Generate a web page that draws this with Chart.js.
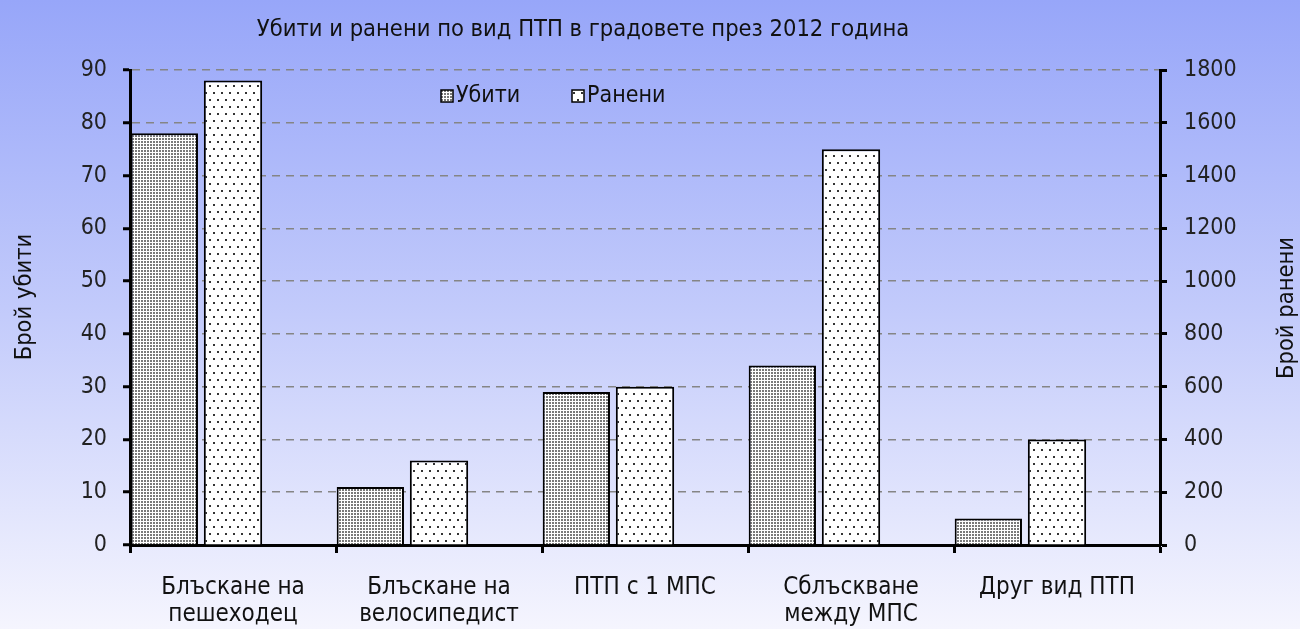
<!DOCTYPE html>
<html>
<head>
<meta charset="utf-8">
<script src="https://cdn.jsdelivr.net/npm/chart.js@4"></script>
<style>
  body { margin: 0; background: #fff; }
  #wrap { width: 1300px; height: 629px; }
</style>
</head>
<body>
<div id="wrap"><canvas id="chart" width="1300" height="629"></canvas></div>
<script>
const FONT = "'Liberation Sans Narrow', 'DejaVu Sans Condensed', 'Arial Narrow', sans-serif";

const categories = [
  ["Блъскане на", "пешеходец"],
  ["Блъскане на", "велосипедист"],
  ["ПТП с 1 МПС"],
  ["Сблъскване", "между МПС"],
  ["Друг вид ПТП"],
];
const killed = [78, 11, 29, 34, 5];
const injured = [1760, 320, 600, 1500, 400];
const leftTicks = { min: 0, max: 90, step: 10 };
const rightTicks = { min: 0, max: 1800, step: 200 };

// fill patterns like the old Excel hatches
function makePattern(w, h, dots, dotSize, color) {
  const c = document.createElement("canvas");
  c.width = w;
  c.height = h;
  const g = c.getContext("2d");
  g.fillStyle = "#fff";
  g.fillRect(0, 0, w, h);
  g.fillStyle = color;
  dots.forEach(([x, y]) => g.fillRect(x, y, dotSize, dotSize));
  return g.createPattern(c, "repeat");
}
const ctx = document.getElementById("chart").getContext("2d");
const densePattern = makePattern(3, 3, [[0, 0]], 2, "#7a7a7a");
const sparsePattern = makePattern(8, 14, [[1, 1], [5, 8]], 2, "#333");

const chartDecor = {
  id: "chartDecor",
  beforeDraw(chart) {
    const c = chart.ctx;
    const grad = c.createLinearGradient(0, 0, 0, chart.height);
    grad.addColorStop(0, "#97a6f9");
    grad.addColorStop(0.5, "#c3cbfb");
    grad.addColorStop(1, "#f5f5fe");
    c.save();
    c.fillStyle = grad;
    c.fillRect(0, 0, chart.width, chart.height);
    c.restore();
  },
  afterDraw(chart) {
    const c = chart.ctx;
    c.save();
    c.fillStyle = "#111";
    c.textAlign = "center";
    c.textBaseline = "middle";
    c.font = "23.5px " + FONT;
    c.fillText("Убити и ранени по вид ПТП в градовете през 2012 година", 583, 30);

    c.save();
    c.translate(25, 297);
    c.rotate(-Math.PI / 2);
    c.fillText("Брой убити", 0, 0);
    c.restore();
    c.save();
    c.translate(1287, 308);
    c.rotate(-Math.PI / 2);
    c.fillText("Брой ранени", 0, 0);
    c.restore();

    // legend
    const items = [
      { label: chart.data.datasets[0].label, fill: densePattern, x: 441 },
      { label: chart.data.datasets[1].label, fill: sparsePattern, x: 572 },
    ];
    c.font = "23px " + FONT;
    c.textAlign = "left";
    items.forEach((it) => {
      c.fillStyle = it.fill;
      c.fillRect(it.x, 90, 12, 12);
      c.strokeStyle = "#000";
      c.lineWidth = 1.5;
      c.strokeRect(it.x, 90, 12, 12);
      c.fillStyle = "#111";
      c.fillText(it.label, it.x + 15, 96);
    });
    c.restore();
  },
};

new Chart(ctx, {
  type: "bar",
  data: {
    labels: categories,
    datasets: [
      {
        label: "Убити",
        data: killed,
        yAxisID: "y",
        backgroundColor: densePattern,
        borderColor: "#000",
        borderWidth: 2,
        barPercentage: 0.98,
        categoryPercentage: 1,
      },
      {
        label: "Ранени",
        data: injured,
        yAxisID: "y1",
        backgroundColor: sparsePattern,
        borderColor: "#000",
        borderWidth: 2,
        barPercentage: 0.85,
        categoryPercentage: 1,
      },
      {
        // empty slot so the pair sits on the left of each category
        label: "",
        data: categories.map(() => null),
        yAxisID: "y",
        categoryPercentage: 1,
      },
    ],
  },
  options: {
    responsive: false,
    animation: false,
    layout: { padding: { top: 70, left: 0, right: 0, bottom: 0 } },
    plugins: {
      legend: { display: false },
      title: { display: false },
      tooltip: { enabled: false },
    },
    scales: {
      x: {
        grid: {
          offset: true,
          drawOnChartArea: false,
          tickLength: 8,
          tickColor: "#000",
          tickWidth: 3,
        },
        border: { color: "#000", width: 3 },
        ticks: {
          color: "#111",
          padding: 21,
          font: { family: FONT, size: 24, lineHeight: 1.12 },
          maxRotation: 0,
          autoSkip: false,
        },
        afterFit: (s) => { s.height = 84; },
      },
      y: {
        position: "left",
        min: leftTicks.min,
        max: leftTicks.max,
        ticks: {
          stepSize: leftTicks.step,
          color: "#222",
          padding: 16,
          font: { family: FONT, size: 23 },
        },
        grid: {
          color: "#858585",
          lineWidth: 1.5,
          tickLength: 7,
          tickColor: "#000",
          tickWidth: 3,
        },
        border: { color: "#000", width: 3, dash: [8, 6] },
        afterFit: (s) => { s.width = 130; },
      },
      y1: {
        position: "right",
        min: rightTicks.min,
        max: rightTicks.max,
        ticks: {
          stepSize: rightTicks.step,
          color: "#222",
          padding: 17,
          font: { family: FONT, size: 23 },
          callback: (v) => String(v),
        },
        grid: {
          drawOnChartArea: false,
          tickLength: 7,
          tickColor: "#000",
          tickWidth: 3,
        },
        border: { color: "#000", width: 3 },
        afterFit: (s) => { s.width = 140; },
      },
    },
  },
  plugins: [chartDecor],
});
</script>
</body>
</html>
